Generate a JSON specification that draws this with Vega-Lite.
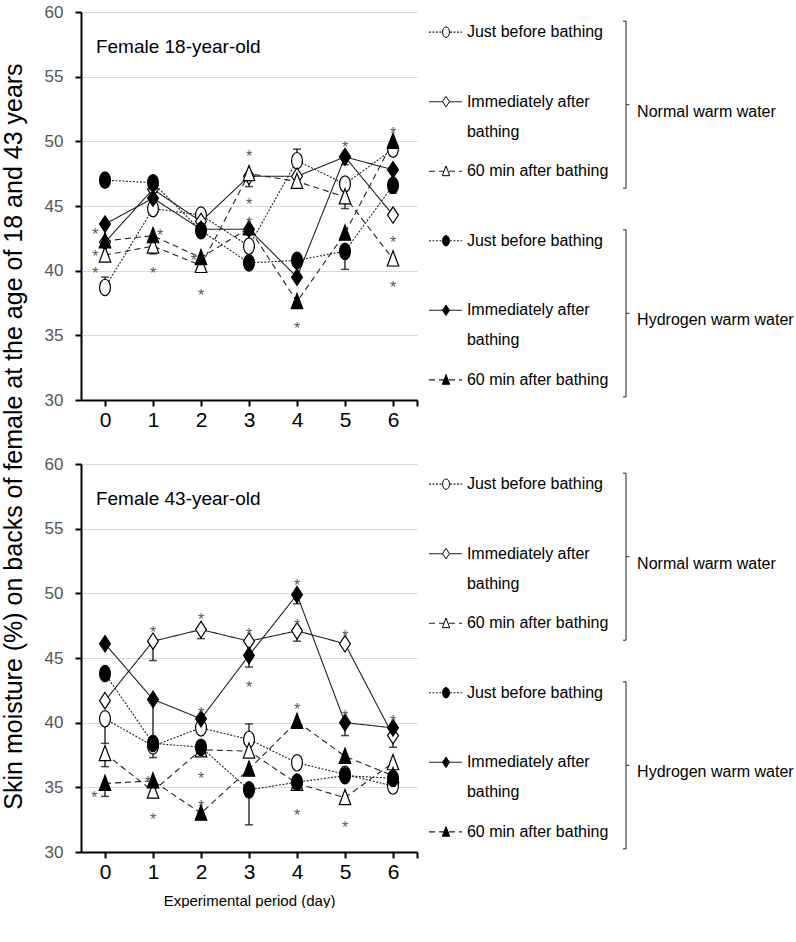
{
  "$schema": "https://vega.github.io/schema/vega-lite/v6.json",
  "background": "white",
  "padding": {"left": 1, "top": 3, "right": 0, "bottom": 0},
  "autosize": {"type": "pad"},
  "config": {
    "view": {"stroke": null},
    "font": "Liberation Sans",
    "axis": {"domainColor": "black", "domainWidth": 2, "tickColor": "black", "tickWidth": 2, "tickSize": 6, "titleFontWeight": "normal", "titleColor": "black"}
  },
  "datasets": {
    "obs": [
      {"panel": "18", "day": 0, "series": "N-before", "moisture": 38.7, "err": 39.5},
      {"panel": "18", "day": 1, "series": "N-before", "moisture": 44.8},
      {"panel": "18", "day": 2, "series": "N-before", "moisture": 44.3},
      {"panel": "18", "day": 3, "series": "N-before", "moisture": 41.9},
      {"panel": "18", "day": 4, "series": "N-before", "moisture": 48.5, "err": 49.4},
      {"panel": "18", "day": 5, "series": "N-before", "moisture": 46.7},
      {"panel": "18", "day": 6, "series": "N-before", "moisture": 49.4},
      {"panel": "18", "day": 0, "series": "N-after", "moisture": 42.2},
      {"panel": "18", "day": 1, "series": "N-after", "moisture": 46.3},
      {"panel": "18", "day": 2, "series": "N-after", "moisture": 43.8},
      {"panel": "18", "day": 3, "series": "N-after", "moisture": 47.3},
      {"panel": "18", "day": 4, "series": "N-after", "moisture": 47.3},
      {"panel": "18", "day": 5, "series": "N-after", "moisture": 48.8},
      {"panel": "18", "day": 6, "series": "N-after", "moisture": 44.3},
      {"panel": "18", "day": 0, "series": "N-60min", "moisture": 41.2, "err": 40.7},
      {"panel": "18", "day": 1, "series": "N-60min", "moisture": 41.9, "err": 41.3},
      {"panel": "18", "day": 2, "series": "N-60min", "moisture": 40.4, "err": 39.9},
      {"panel": "18", "day": 3, "series": "N-60min", "moisture": 47.5, "err": 46.5},
      {"panel": "18", "day": 4, "series": "N-60min", "moisture": 46.9},
      {"panel": "18", "day": 5, "series": "N-60min", "moisture": 45.7, "err": 44.8},
      {"panel": "18", "day": 6, "series": "N-60min", "moisture": 40.9, "err": 40.4},
      {"panel": "18", "day": 0, "series": "H-before", "moisture": 47.0, "err": 46.5},
      {"panel": "18", "day": 1, "series": "H-before", "moisture": 46.8},
      {"panel": "18", "day": 2, "series": "H-before", "moisture": 43.1},
      {"panel": "18", "day": 3, "series": "H-before", "moisture": 40.6},
      {"panel": "18", "day": 4, "series": "H-before", "moisture": 40.8},
      {"panel": "18", "day": 5, "series": "H-before", "moisture": 41.5, "err": 40.1},
      {"panel": "18", "day": 6, "series": "H-before", "moisture": 46.6, "err": 46.0},
      {"panel": "18", "day": 0, "series": "H-after", "moisture": 43.6},
      {"panel": "18", "day": 1, "series": "H-after", "moisture": 45.6},
      {"panel": "18", "day": 2, "series": "H-after", "moisture": 43.2},
      {"panel": "18", "day": 3, "series": "H-after", "moisture": 43.2},
      {"panel": "18", "day": 4, "series": "H-after", "moisture": 39.5},
      {"panel": "18", "day": 5, "series": "H-after", "moisture": 48.8, "err": 48.2},
      {"panel": "18", "day": 6, "series": "H-after", "moisture": 47.8},
      {"panel": "18", "day": 0, "series": "H-60min", "moisture": 42.3},
      {"panel": "18", "day": 1, "series": "H-60min", "moisture": 42.7},
      {"panel": "18", "day": 2, "series": "H-60min", "moisture": 41.0},
      {"panel": "18", "day": 3, "series": "H-60min", "moisture": 43.3},
      {"panel": "18", "day": 4, "series": "H-60min", "moisture": 37.6},
      {"panel": "18", "day": 5, "series": "H-60min", "moisture": 42.9},
      {"panel": "18", "day": 6, "series": "H-60min", "moisture": 50.0},
      {"panel": "43", "day": 0, "series": "N-before", "moisture": 40.3, "err": 38.4},
      {"panel": "43", "day": 1, "series": "N-before", "moisture": 38.2},
      {"panel": "43", "day": 2, "series": "N-before", "moisture": 39.6},
      {"panel": "43", "day": 3, "series": "N-before", "moisture": 38.7, "err": 39.9},
      {"panel": "43", "day": 4, "series": "N-before", "moisture": 36.9},
      {"panel": "43", "day": 5, "series": "N-before", "moisture": 36.0},
      {"panel": "43", "day": 6, "series": "N-before", "moisture": 35.1},
      {"panel": "43", "day": 0, "series": "N-after", "moisture": 41.7},
      {"panel": "43", "day": 1, "series": "N-after", "moisture": 46.3, "err": 44.8},
      {"panel": "43", "day": 2, "series": "N-after", "moisture": 47.2, "err": 46.5},
      {"panel": "43", "day": 3, "series": "N-after", "moisture": 46.3},
      {"panel": "43", "day": 4, "series": "N-after", "moisture": 47.1, "err": 46.3},
      {"panel": "43", "day": 5, "series": "N-after", "moisture": 46.1},
      {"panel": "43", "day": 6, "series": "N-after", "moisture": 39.0, "err": 38.1},
      {"panel": "43", "day": 0, "series": "N-60min", "moisture": 37.6, "err": 36.6},
      {"panel": "43", "day": 1, "series": "N-60min", "moisture": 34.7, "err": 34.2},
      {"panel": "43", "day": 2, "series": "N-60min", "moisture": 37.9},
      {"panel": "43", "day": 3, "series": "N-60min", "moisture": 37.8},
      {"panel": "43", "day": 4, "series": "N-60min", "moisture": 35.3},
      {"panel": "43", "day": 5, "series": "N-60min", "moisture": 34.2},
      {"panel": "43", "day": 6, "series": "N-60min", "moisture": 36.9},
      {"panel": "43", "day": 0, "series": "H-before", "moisture": 43.8},
      {"panel": "43", "day": 1, "series": "H-before", "moisture": 38.4, "err": 37.3},
      {"panel": "43", "day": 2, "series": "H-before", "moisture": 38.1},
      {"panel": "43", "day": 3, "series": "H-before", "moisture": 34.8, "err": 32.1},
      {"panel": "43", "day": 4, "series": "H-before", "moisture": 35.4},
      {"panel": "43", "day": 5, "series": "H-before", "moisture": 35.9},
      {"panel": "43", "day": 6, "series": "H-before", "moisture": 35.7},
      {"panel": "43", "day": 0, "series": "H-after", "moisture": 46.1},
      {"panel": "43", "day": 1, "series": "H-after", "moisture": 41.8, "err": 38.6},
      {"panel": "43", "day": 2, "series": "H-after", "moisture": 40.3},
      {"panel": "43", "day": 3, "series": "H-after", "moisture": 45.2, "err": 44.3},
      {"panel": "43", "day": 4, "series": "H-after", "moisture": 49.9, "err": 49.2},
      {"panel": "43", "day": 5, "series": "H-after", "moisture": 40.0, "err": 39.0},
      {"panel": "43", "day": 6, "series": "H-after", "moisture": 39.6},
      {"panel": "43", "day": 0, "series": "H-60min", "moisture": 35.3, "err": 34.3},
      {"panel": "43", "day": 1, "series": "H-60min", "moisture": 35.5},
      {"panel": "43", "day": 2, "series": "H-60min", "moisture": 33.0},
      {"panel": "43", "day": 3, "series": "H-60min", "moisture": 36.4},
      {"panel": "43", "day": 4, "series": "H-60min", "moisture": 40.1},
      {"panel": "43", "day": 5, "series": "H-60min", "moisture": 37.4},
      {"panel": "43", "day": 6, "series": "H-60min", "moisture": 35.9}
    ],
    "sig": [
      {"panel": "18", "day": -0.2, "moisture": 43.1},
      {"panel": "18", "day": -0.2, "moisture": 41.4},
      {"panel": "18", "day": -0.2, "moisture": 40.1},
      {"panel": "18", "day": 1.15, "moisture": 43.0},
      {"panel": "18", "day": 1.0, "moisture": 40.1},
      {"panel": "18", "day": 1.85, "moisture": 41.1},
      {"panel": "18", "day": 2.0, "moisture": 38.4},
      {"panel": "18", "day": 3.0, "moisture": 49.1},
      {"panel": "18", "day": 3.0, "moisture": 45.4},
      {"panel": "18", "day": 3.0, "moisture": 43.95},
      {"panel": "18", "day": 4.0, "moisture": 35.8},
      {"panel": "18", "day": 5.0, "moisture": 49.8},
      {"panel": "18", "day": 6.0, "moisture": 50.9},
      {"panel": "18", "day": 6.0, "moisture": 42.5},
      {"panel": "18", "day": 6.0, "moisture": 39.0},
      {"panel": "43", "day": -0.22, "moisture": 34.5},
      {"panel": "43", "day": 1.0, "moisture": 47.3},
      {"panel": "43", "day": 0.9, "moisture": 35.7},
      {"panel": "43", "day": 1.0, "moisture": 32.8},
      {"panel": "43", "day": 2.0, "moisture": 48.3},
      {"panel": "43", "day": 2.0, "moisture": 41.0},
      {"panel": "43", "day": 2.0, "moisture": 36.0},
      {"panel": "43", "day": 2.0, "moisture": 33.8},
      {"panel": "43", "day": 3.0, "moisture": 47.1},
      {"panel": "43", "day": 3.0, "moisture": 43.0},
      {"panel": "43", "day": 4.0, "moisture": 50.9},
      {"panel": "43", "day": 4.0, "moisture": 47.8},
      {"panel": "43", "day": 4.0, "moisture": 41.3},
      {"panel": "43", "day": 4.0, "moisture": 33.1},
      {"panel": "43", "day": 5.0, "moisture": 47.0},
      {"panel": "43", "day": 5.0, "moisture": 40.8},
      {"panel": "43", "day": 5.0, "moisture": 32.2},
      {"panel": "43", "day": 6.0, "moisture": 40.4}
    ],
    "panels": [
      {"panel": "18", "label": "Female 18-year-old"},
      {"panel": "43", "label": "Female 43-year-old"}
    ],
    "legend": [
      {"series": "N-before", "label1": "Just before bathing", "label2": ""},
      {"series": "N-after", "label1": "Immediately after", "label2": "bathing"},
      {"series": "N-60min", "label1": "60 min after bathing", "label2": ""},
      {"series": "H-before", "label1": "Just before bathing", "label2": ""},
      {"series": "H-after", "label1": "Immediately after", "label2": "bathing"},
      {"series": "H-60min", "label1": "60 min after bathing", "label2": ""}
    ],
    "groups": [
      {"group": "Normal warm water", "first": "N-before", "mid": "N-after", "last": "N-60min"},
      {"group": "Hydrogen warm water", "first": "H-before", "mid": "H-after", "last": "H-60min"}
    ]
  },
  "columns": 2,
  "bounds": "flush",
  "spacing": {"row": 64, "column": 7},
  "concat": [
    {
      "width": 336,
      "height": 388,
      "layer": [
        {
          "data": {"name": "obs"},
          "transform": [{"filter": "datum.panel === '18'"}],
          "mark": {"type": "line", "color": "#222", "strokeWidth": 1.1},
          "encoding": {
            "x": {"field": "day", "type": "quantitative", "scale": {"domain": [-0.5, 6.5], "nice": false, "zero": false},
              "axis": {"values": [0, 1, 2, 3, 4, 5, 6, 6.5], "labelExpr": "datum.value == 6.5 ? '' : datum.label", "grid": false, "title": null, "labelFontSize": 21, "labelColor": "black", "labelPadding": 3}},
            "y": {"field": "moisture", "type": "quantitative", "scale": {"domain": [30, 60], "nice": false, "zero": false},
              "axis": {"values": [30, 35, 40, 45, 50, 55, 60], "grid": true, "gridColor": "#d9d9d9", "gridWidth": 1, "labelFontSize": 17, "labelColor": "#555", "labelPadding": 12,
                "title": "Skin moisture (%) on backs of female at the age of 18 and 43 years", "titleFontSize": 25, "titleBaseline": "middle", "titleX": -68, "titleY": 424}},
            "detail": {"field": "series", "type": "nominal"},
            "strokeDash": {"field": "series", "type": "nominal", "legend": null,
              "scale": {"domain": ["N-before", "N-after", "N-60min", "H-before", "H-after", "H-60min"], "range": [[2, 1.5], [1, 0], [6, 4], [2, 1.5], [1, 0], [6, 4]]}}
          }
        },
        {
          "data": {"name": "obs"},
          "transform": [{"filter": "datum.panel === '18' && isValid(datum.err)"}],
          "mark": {"type": "rule", "color": "black", "strokeWidth": 1.2},
          "encoding": {
            "x": {"field": "day", "type": "quantitative"},
            "y": {"field": "moisture", "type": "quantitative"},
            "y2": {"field": "err"}
          }
        },
        {
          "data": {"name": "obs"},
          "transform": [{"filter": "datum.panel === '18' && isValid(datum.err)"}],
          "mark": {"type": "tick", "orient": "horizontal", "color": "black", "thickness": 1.5, "size": 8},
          "encoding": {
            "x": {"field": "day", "type": "quantitative"},
            "y": {"field": "err", "type": "quantitative"}
          }
        },
        {
          "data": {"name": "obs"},
          "transform": [{"filter": "datum.panel === '18'"}],
          "mark": {"type": "point", "filled": true, "stroke": "black", "strokeWidth": 1.2, "size": 270, "opacity": 1},
          "encoding": {
            "x": {"field": "day", "type": "quantitative"},
            "y": {"field": "moisture", "type": "quantitative"},
            "shape": {"field": "series", "type": "nominal", "legend": null,
              "scale": {"domain": ["N-before", "N-after", "N-60min", "H-before", "H-after", "H-60min"],
                "range": ["M0,-1A0.66,1,0,1,1,0,1A0.66,1,0,1,1,0,-1Z", "M0,-1L0.66,0L0,1L-0.66,0Z", "M0,-1L0.7,0.85L-0.7,0.85Z", "M0,-1A0.66,1,0,1,1,0,1A0.66,1,0,1,1,0,-1Z", "M0,-1L0.66,0L0,1L-0.66,0Z", "M0,-1L0.7,0.85L-0.7,0.85Z"]}},
            "fill": {"field": "series", "type": "nominal", "legend": null,
              "scale": {"domain": ["N-before", "N-after", "N-60min", "H-before", "H-after", "H-60min"], "range": ["white", "white", "white", "black", "black", "black"]}}
          }
        },
        {
          "data": {"name": "sig"},
          "transform": [{"filter": "datum.panel === '18'"}],
          "mark": {"type": "text", "text": "*", "fontSize": 16, "color": "#5a5a5a", "dy": 4.5},
          "encoding": {
            "x": {"field": "day", "type": "quantitative"},
            "y": {"field": "moisture", "type": "quantitative"}
          }
        },
        {
          "data": {"name": "panels"},
          "transform": [{"filter": "datum.panel === '18'"}],
          "mark": {"type": "text", "align": "left", "baseline": "middle", "fontSize": 19, "color": "black"},
          "encoding": {
            "x": {"datum": -0.19, "type": "quantitative"},
            "y": {"datum": 57.3, "type": "quantitative"},
            "text": {"field": "label", "type": "nominal"}
          }
        }
      ]
    },
    {
      "width": 370,
      "height": 388,
      "layer": [
        {
          "data": {"name": "legend"},
          "mark": {"type": "rule", "color": "#222", "strokeWidth": 1.1},
          "encoding": {
            "x": {"datum": 1.35, "type": "quantitative", "scale": {"domain": [0, 100]}, "axis": null},
            "x2": {"datum": 10.3},
            "y": {"field": "series", "type": "nominal", "scale": {"type": "point", "domain": ["N-before", "N-after", "N-60min", "H-before", "H-after", "H-60min"], "padding": 0.29}, "axis": null},
            "strokeDash": {"field": "series", "type": "nominal", "legend": null,
              "scale": {"domain": ["N-before", "N-after", "N-60min", "H-before", "H-after", "H-60min"], "range": [[2, 1.5], [1, 0], [6, 4], [2, 1.5], [1, 0], [6, 4]]}}
          }
        },
        {
          "data": {"name": "legend"},
          "mark": {"type": "point", "filled": true, "stroke": "black", "strokeWidth": 1, "size": 110, "opacity": 1},
          "encoding": {
            "x": {"datum": 5.95, "type": "quantitative"},
            "y": {"field": "series", "type": "nominal"},
            "shape": {"field": "series", "type": "nominal", "legend": null},
            "fill": {"field": "series", "type": "nominal", "legend": null}
          }
        },
        {
          "data": {"name": "legend"},
          "mark": {"type": "text", "align": "left", "baseline": "middle", "fontSize": 16, "color": "black"},
          "encoding": {
            "x": {"datum": 11.6, "type": "quantitative"},
            "y": {"field": "series", "type": "nominal"},
            "text": {"field": "label1", "type": "nominal"}
          }
        },
        {
          "data": {"name": "legend"},
          "mark": {"type": "text", "align": "left", "baseline": "middle", "fontSize": 16, "color": "black", "dy": 30},
          "encoding": {
            "x": {"datum": 11.6, "type": "quantitative"},
            "y": {"field": "series", "type": "nominal"},
            "text": {"field": "label2", "type": "nominal"}
          }
        },
        {
          "data": {"name": "groups"},
          "mark": {"type": "rule", "color": "#222", "strokeWidth": 1, "yOffset": -11, "y2Offset": 17},
          "encoding": {
            "x": {"datum": 54.6, "type": "quantitative"},
            "y": {"field": "first", "type": "nominal"},
            "y2": {"field": "last"}
          }
        },
        {
          "data": {"name": "groups"},
          "mark": {"type": "rule", "color": "#222", "strokeWidth": 1, "yOffset": -11},
          "encoding": {
            "x": {"datum": 53.8, "type": "quantitative"},
            "x2": {"datum": 54.6},
            "y": {"field": "first", "type": "nominal"}
          }
        },
        {
          "data": {"name": "groups"},
          "mark": {"type": "rule", "color": "#222", "strokeWidth": 1, "yOffset": 17},
          "encoding": {
            "x": {"datum": 53.8, "type": "quantitative"},
            "x2": {"datum": 54.6},
            "y": {"field": "last", "type": "nominal"}
          }
        },
        {
          "data": {"name": "groups"},
          "mark": {"type": "rule", "color": "#222", "strokeWidth": 1, "yOffset": 3},
          "encoding": {
            "x": {"datum": 54.6, "type": "quantitative"},
            "x2": {"datum": 55.5},
            "y": {"field": "mid", "type": "nominal"}
          }
        },
        {
          "data": {"name": "groups"},
          "mark": {"type": "text", "align": "left", "baseline": "middle", "fontSize": 16, "color": "black", "dy": 10},
          "encoding": {
            "x": {"datum": 57.6, "type": "quantitative"},
            "y": {"field": "mid", "type": "nominal"},
            "text": {"field": "group", "type": "nominal"}
          }
        }
      ]
    },
    {
      "width": 336,
      "height": 388,
      "layer": [
        {
          "data": {"name": "obs"},
          "transform": [{"filter": "datum.panel === '43'"}],
          "mark": {"type": "line", "color": "#222", "strokeWidth": 1.1},
          "encoding": {
            "x": {"field": "day", "type": "quantitative", "scale": {"domain": [-0.5, 6.5], "nice": false, "zero": false},
              "axis": {"values": [0, 1, 2, 3, 4, 5, 6, 6.5], "labelExpr": "datum.value == 6.5 ? '' : datum.label", "grid": false, "labelFontSize": 21, "labelColor": "black", "labelPadding": 3,
                "title": "Experimental period (day)", "titleFontSize": 15, "titlePadding": 11}},
            "y": {"field": "moisture", "type": "quantitative", "scale": {"domain": [30, 60], "nice": false, "zero": false},
              "axis": {"values": [30, 35, 40, 45, 50, 55, 60], "grid": true, "gridColor": "#d9d9d9", "gridWidth": 1, "labelFontSize": 17, "labelColor": "#555", "labelPadding": 12, "title": null}},
            "detail": {"field": "series", "type": "nominal"},
            "strokeDash": {"field": "series", "type": "nominal", "legend": null}
          }
        },
        {
          "data": {"name": "obs"},
          "transform": [{"filter": "datum.panel === '43' && isValid(datum.err)"}],
          "mark": {"type": "rule", "color": "black", "strokeWidth": 1.2},
          "encoding": {
            "x": {"field": "day", "type": "quantitative"},
            "y": {"field": "moisture", "type": "quantitative"},
            "y2": {"field": "err"}
          }
        },
        {
          "data": {"name": "obs"},
          "transform": [{"filter": "datum.panel === '43' && isValid(datum.err)"}],
          "mark": {"type": "tick", "orient": "horizontal", "color": "black", "thickness": 1.5, "size": 8},
          "encoding": {
            "x": {"field": "day", "type": "quantitative"},
            "y": {"field": "err", "type": "quantitative"}
          }
        },
        {
          "data": {"name": "obs"},
          "transform": [{"filter": "datum.panel === '43'"}],
          "mark": {"type": "point", "filled": true, "stroke": "black", "strokeWidth": 1.2, "size": 270, "opacity": 1},
          "encoding": {
            "x": {"field": "day", "type": "quantitative"},
            "y": {"field": "moisture", "type": "quantitative"},
            "shape": {"field": "series", "type": "nominal", "legend": null},
            "fill": {"field": "series", "type": "nominal", "legend": null}
          }
        },
        {
          "data": {"name": "sig"},
          "transform": [{"filter": "datum.panel === '43'"}],
          "mark": {"type": "text", "text": "*", "fontSize": 16, "color": "#5a5a5a", "dy": 4.5},
          "encoding": {
            "x": {"field": "day", "type": "quantitative"},
            "y": {"field": "moisture", "type": "quantitative"}
          }
        },
        {
          "data": {"name": "panels"},
          "transform": [{"filter": "datum.panel === '43'"}],
          "mark": {"type": "text", "align": "left", "baseline": "middle", "fontSize": 19, "color": "black"},
          "encoding": {
            "x": {"datum": -0.19, "type": "quantitative"},
            "y": {"datum": 57.3, "type": "quantitative"},
            "text": {"field": "label", "type": "nominal"}
          }
        }
      ]
    },
    {
      "width": 370,
      "height": 388,
      "layer": [
        {
          "data": {"name": "legend"},
          "mark": {"type": "rule", "color": "#222", "strokeWidth": 1.1},
          "encoding": {
            "x": {"datum": 1.35, "type": "quantitative", "scale": {"domain": [0, 100]}, "axis": null},
            "x2": {"datum": 10.3},
            "y": {"field": "series", "type": "nominal", "scale": {"type": "point", "domain": ["N-before", "N-after", "N-60min", "H-before", "H-after", "H-60min"], "padding": 0.29}, "axis": null},
            "strokeDash": {"field": "series", "type": "nominal", "legend": null}
          }
        },
        {
          "data": {"name": "legend"},
          "mark": {"type": "point", "filled": true, "stroke": "black", "strokeWidth": 1, "size": 110, "opacity": 1},
          "encoding": {
            "x": {"datum": 5.95, "type": "quantitative"},
            "y": {"field": "series", "type": "nominal"},
            "shape": {"field": "series", "type": "nominal", "legend": null},
            "fill": {"field": "series", "type": "nominal", "legend": null}
          }
        },
        {
          "data": {"name": "legend"},
          "mark": {"type": "text", "align": "left", "baseline": "middle", "fontSize": 16, "color": "black"},
          "encoding": {
            "x": {"datum": 11.6, "type": "quantitative"},
            "y": {"field": "series", "type": "nominal"},
            "text": {"field": "label1", "type": "nominal"}
          }
        },
        {
          "data": {"name": "legend"},
          "mark": {"type": "text", "align": "left", "baseline": "middle", "fontSize": 16, "color": "black", "dy": 30},
          "encoding": {
            "x": {"datum": 11.6, "type": "quantitative"},
            "y": {"field": "series", "type": "nominal"},
            "text": {"field": "label2", "type": "nominal"}
          }
        },
        {
          "data": {"name": "groups"},
          "mark": {"type": "rule", "color": "#222", "strokeWidth": 1, "yOffset": -11, "y2Offset": 17},
          "encoding": {
            "x": {"datum": 54.6, "type": "quantitative"},
            "y": {"field": "first", "type": "nominal"},
            "y2": {"field": "last"}
          }
        },
        {
          "data": {"name": "groups"},
          "mark": {"type": "rule", "color": "#222", "strokeWidth": 1, "yOffset": -11},
          "encoding": {
            "x": {"datum": 53.8, "type": "quantitative"},
            "x2": {"datum": 54.6},
            "y": {"field": "first", "type": "nominal"}
          }
        },
        {
          "data": {"name": "groups"},
          "mark": {"type": "rule", "color": "#222", "strokeWidth": 1, "yOffset": 17},
          "encoding": {
            "x": {"datum": 53.8, "type": "quantitative"},
            "x2": {"datum": 54.6},
            "y": {"field": "last", "type": "nominal"}
          }
        },
        {
          "data": {"name": "groups"},
          "mark": {"type": "rule", "color": "#222", "strokeWidth": 1, "yOffset": 3},
          "encoding": {
            "x": {"datum": 54.6, "type": "quantitative"},
            "x2": {"datum": 55.5},
            "y": {"field": "mid", "type": "nominal"}
          }
        },
        {
          "data": {"name": "groups"},
          "mark": {"type": "text", "align": "left", "baseline": "middle", "fontSize": 16, "color": "black", "dy": 10},
          "encoding": {
            "x": {"datum": 57.6, "type": "quantitative"},
            "y": {"field": "mid", "type": "nominal"},
            "text": {"field": "group", "type": "nominal"}
          }
        }
      ]
    }
  ]
}
